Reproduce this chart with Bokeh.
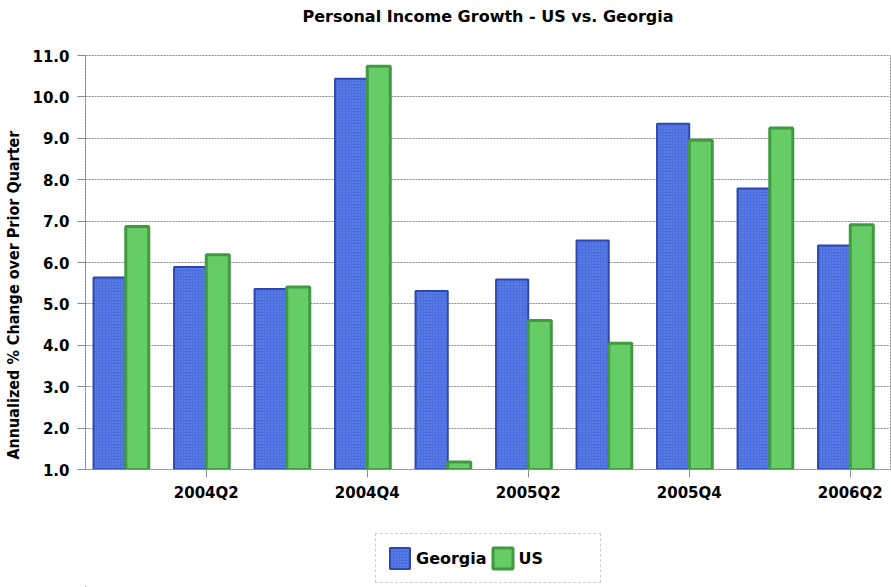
from bokeh.plotting import figure
from bokeh.layouts import column
from bokeh.models import (ColumnDataSource, Range1d, FixedTicker, NumeralTickFormatter,
                          Legend, LegendItem, Title)
from bokeh.embed import file_html
from bokeh.resources import INLINE

# ---- data ----
quarters = ["2004Q1", "2004Q2", "2004Q3", "2004Q4", "2005Q1",
            "2005Q2", "2005Q3", "2005Q4", "2006Q1", "2006Q2"]
georgia = [5.64, 5.89, 5.36, 10.44, 5.31, 5.59, 6.53, 9.35, 7.79, 6.41]
us = [6.87, 6.19, 5.41, 10.74, 1.18, 4.60, 4.05, 8.95, 9.25, 6.91]
labeled_quarters = ["2004Q2", "2004Q4", "2005Q2", "2005Q4", "2006Q2"]
y_ticks = [1.0, 2.0, 3.0, 4.0, 5.0, 6.0, 7.0, 8.0, 9.0, 10.0, 11.0]
series_names = ["Georgia", "US"]
chart_title = "Personal Income Growth - US vs. Georgia"
y_title = "Annualized % Change over Prior Quarter"

# ---- layout / style constants ----
Y_MIN, Y_MAX = 1.0, 11.0
GA_OFF, GA_W = -0.2, 0.4
US_OFF, US_W = 0.143, 0.286
GA_STYLE = dict(fill_color="#4a6ee0", line_color="#2e48b0", line_width=2,
                hatch_pattern="dot", hatch_color="#8ea8f6", hatch_scale=3, hatch_alpha=0.6)
US_STYLE = dict(fill_color="#66cc66", line_color="#3f9a42", line_width=3)
GRID = "#8a8a8a"
FONT = "DejaVu Sans"

idx = list(range(len(quarters)))
src = ColumnDataSource(dict(
    idx=idx,
    q=quarters,
    ga_x=[i + GA_OFF for i in idx],
    us_x=[i + US_OFF for i in idx],
    georgia=georgia,
    us=us,
))

p = figure(width=891, height=525, output_backend="svg", toolbar_location=None,
           x_range=Range1d(-0.5, len(quarters) - 0.5), y_range=Range1d(Y_MIN, Y_MAX),
           min_border_left=85, min_border_right=1, min_border_top=55, min_border_bottom=56,
           title=None)
p.background_fill_color = "white"
p.border_fill_color = "white"
p.outline_line_color = GRID
p.outline_line_dash = "2 1"

# blank spacer next to the plotting area, then the real title above it
spacer = Title(text="\u00a0", text_font=FONT, text_font_size="16px",
               text_color="white", standoff=5)
p.add_layout(spacer, "above")
title = Title(text=chart_title, align="center", text_font=FONT, text_font_size="16px",
              text_font_style="bold", text_color="black", standoff=8)
p.add_layout(title, "above")

p.vbar(x="ga_x", width=GA_W, top="georgia", bottom=Y_MIN, source=src, **GA_STYLE)
p.vbar(x="us_x", width=US_W, top="us", bottom=Y_MIN, source=src, **US_STYLE)

# axes
tick_pos = [quarters.index(q) for q in labeled_quarters]
p.xaxis.ticker = FixedTicker(ticks=tick_pos)
p.xaxis.major_label_overrides = {i: quarters[i] for i in tick_pos}
p.xaxis.minor_tick_line_color = None
p.xaxis.major_tick_out = 8
p.xaxis.major_tick_in = 0
p.xaxis.major_label_standoff = 6

p.yaxis.ticker = FixedTicker(ticks=y_ticks)
p.yaxis.formatter = NumeralTickFormatter(format="0.0")
p.yaxis.minor_tick_line_color = None
p.yaxis.major_tick_out = 8
p.yaxis.major_tick_in = 0
p.yaxis.major_label_standoff = 8
# trailing no-break spaces shift the centred label upward as in the reference
p.yaxis.axis_label = y_title + "\u00a0" * 13
p.yaxis.axis_label_text_font = "DejaVu Sans Condensed"
p.yaxis.axis_label_text_font_size = "16px"
p.yaxis.axis_label_text_font_style = "bold"
p.yaxis.axis_label_text_color = "black"
p.yaxis.axis_label_standoff = 6

for ax in (p.xaxis, p.yaxis):
    ax.axis_line_color = GRID
    ax.axis_line_dash = "2 1"
    ax.major_tick_line_color = GRID
    ax.major_label_text_font = FONT
    ax.major_label_text_font_size = "15px"
    ax.major_label_text_font_style = "bold"
    ax.major_label_text_color = "black"

p.xgrid.grid_line_color = None
p.ygrid.grid_line_color = GRID
p.ygrid.grid_line_dash = "2 1"
p.ygrid.grid_line_width = 1

# ---- legend strip (separate figure below the chart; its frame aligns with the chart's) ----
pl = figure(width=891, height=62, output_backend="svg", toolbar_location=None,
            x_axis_location=None, y_axis_location=None, min_border=0,
            x_range=Range1d(0, 1), y_range=Range1d(0, 1))
pl.outline_line_color = None
pl.background_fill_color = "white"
pl.border_fill_color = "white"
pl.grid.grid_line_color = None
# proxy renderers for the legend swatches, kept outside the visible range
proxy = ColumnDataSource(dict(x=[-5.0], top=[-5.0]))
lg_ga = pl.vbar(x="x", top="top", width=0.1, source=proxy, **GA_STYLE)
lg_us = pl.vbar(x="x", top="top", width=0.1, source=proxy, **US_STYLE)

legend = Legend(items=[LegendItem(label=series_names[0], renderers=[lg_ga]),
                       LegendItem(label=series_names[1], renderers=[lg_us])],
                orientation="horizontal", location=(290, 4))
legend.margin = 0
legend.padding = 11
legend.spacing = 3
legend.glyph_width = 25
legend.glyph_height = 26
legend.label_standoff = 4
legend.label_width = 70
legend.label_text_font = FONT
legend.label_text_font_size = "16px"
legend.label_text_font_style = "bold"
legend.label_text_color = "black"
legend.border_line_color = "#9a9a9a"
legend.border_line_dash = "2 1"
legend.background_fill_color = "white"
pl.add_layout(legend, "center")

layout = column(p, pl, spacing=0)
open("out.html", "w").write(file_html(layout, INLINE))
